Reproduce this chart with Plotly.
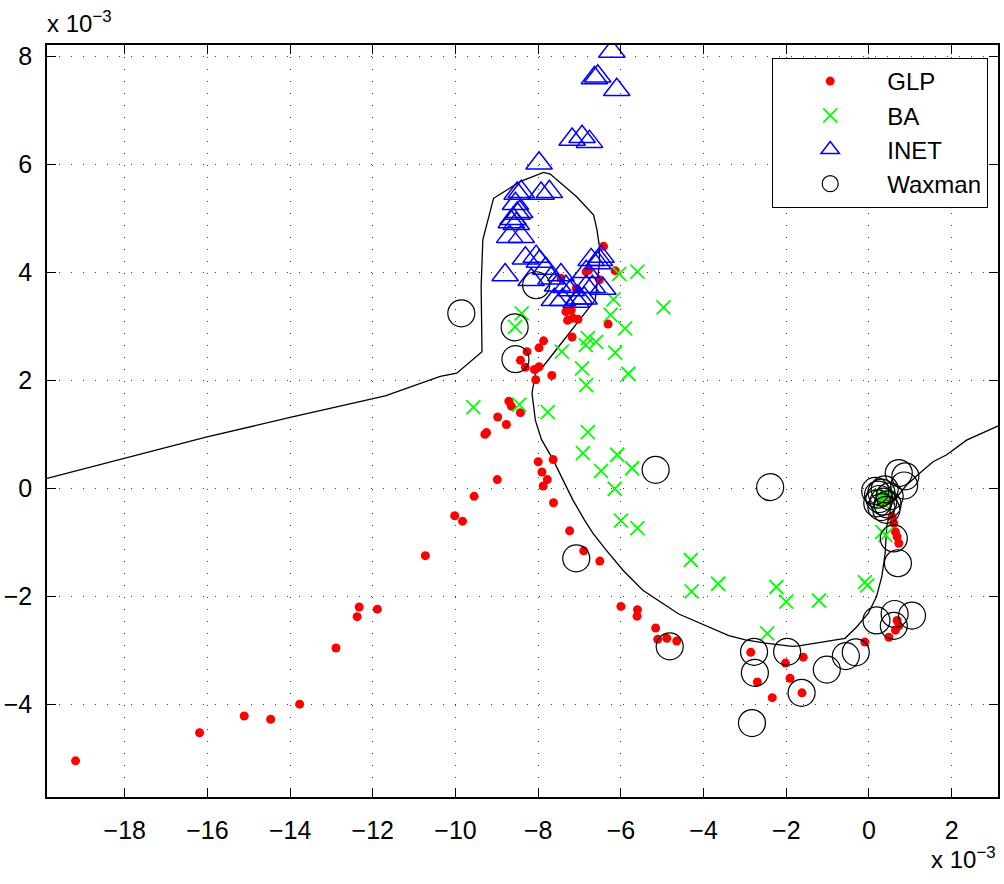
import plotly.graph_objects as go

# values in units of 1e-3
glp_x = [-19.19, -16.19, -15.11, -14.47, -13.77, -12.89, -12.33, -12.38, -11.89, -10.73,
         -10.02, -9.83, -9.55, -8.99, -9.25, -9.29, -8.98, -8.77, -8.65, -8.71, -8.43,
         -8.0, -7.64, -7.91, -7.78, -7.88, -7.63, -7.24, -6.90, -6.51,
         -6.0, -5.6, -5.61, -5.16, -5.11, -4.89, -4.65, -2.86, -2.70, -2.34, -2.02, -1.91,
         -1.59, -1.62, -0.10, 0.48, 0.68, 0.64, 0.72, 0.56, 0.64, 0.68, 0.72, 0.60, 0.44, 0.35,
         -6.42, -6.84, -6.78, -6.14, -6.52, -7.45, -7.08, -7.33, -7.20, -7.29, -7.16, -7.04,
         -6.31, -7.18, -7.87, -7.98, -8.27, -8.43, -8.31, -8.09, -7.98, -7.67, -8.06]
glp_y = [-5.05, -4.53, -4.22, -4.28, -4.0, -2.96, -2.20, -2.38, -2.24, -1.25,
         -0.51, -0.61, -0.15, 0.16, 1.03, 1.0, 1.32, 1.18, 1.52, 1.61, 1.40,
         0.49, 0.53, 0.30, 0.16, 0.04, -0.27, -0.79, -1.16, -1.35,
         -2.19, -2.25, -2.37, -2.59, -2.80, -2.78, -2.83, -3.04, -3.59, -3.88, -3.24, -3.52,
         -3.13, -3.79, -2.85, -2.76, -2.45, -2.63, -2.55, -0.53, -0.81, -0.90, -1.02, -0.65, -0.19, -0.25,
         4.48, 4.01, 4.04, 4.03, 3.86, 3.89, 3.70, 3.27, 3.30, 3.11, 3.15, 3.13,
         3.04, 2.80, 2.73, 2.60, 2.53, 2.37, 2.24, 2.20, 2.25, 2.09, 2.01]

ba_x = [-9.57, -8.46, -7.77, -6.80, -6.92, -6.09, -6.48, -5.73, -6.15, -6.0, -5.60,
        -4.31, -4.29, -3.65, -2.24, -2.0, -1.21, -2.46, -0.10, -0.04, 0.32, 0.40,
        0.28, 0.36, 0.40, 0.32, 0.45,
        -6.04, -5.60, -6.18, -6.25, -5.90, -4.97, -8.40, -8.56, -6.80, -6.60, -6.85,
        -7.43, -6.14, -6.94, -5.82, -6.84]
ba_y = [1.50, 1.55, 1.41, 1.04, 0.65, 0.62, 0.32, 0.37, -0.01, -0.60, -0.74,
        -1.33, -1.91, -1.77, -1.83, -2.10, -2.08, -2.69, -1.74, -1.80, -0.81, -0.87,
        -0.14, -0.20, -0.10, -0.25, -0.18,
        3.97, 4.01, 3.50, 3.21, 2.96, 3.35, 3.24, 2.99, 2.78, 2.71, 2.65,
        2.53, 2.51, 2.22, 2.12, 1.91]

inet_x = [-6.22, -6.56, -6.64, -6.10, -7.18, -6.94, -6.76, -7.98, -8.41, -8.51, -7.93, -7.73,
          -8.55, -8.51, -8.61, -8.65, -8.45, -8.53,
          -8.69, -8.41, -8.31, -8.80, -8.05, -7.97, -8.17, -7.82, -7.69, -7.53, -7.45, -7.33,
          -7.20, -7.61, -7.41, -7.0, -6.84, -6.72, -6.56, -6.48, -6.84, -7.08, -6.52, -6.69,
          -6.44, -6.89]
inet_y = [8.09, 7.63, 7.60, 7.38, 6.46, 6.51, 6.42, 6.02, 5.49, 5.46, 5.46, 5.49,
          5.27, 5.09, 4.99, 4.93, 5.12, 4.90,
          4.66, 4.66, 4.26, 3.95, 4.29, 4.20, 3.86, 4.07, 3.89, 3.76, 3.95, 3.73,
          3.67, 3.49, 3.49, 3.52, 3.73, 4.23, 4.17, 4.29, 4.01, 3.46, 4.23, 3.73,
          3.70, 3.52]

wax_x = [-9.86, -8.57, -8.55, -8.05, -5.16, -7.08, -2.39, -4.82, -2.78, -2.76, -2.83, -1.98,
         -1.63, -1.02, -0.56, -0.32, 0.18, 0.62, 1.04, 0.60, 0.60, 0.70, 0.72, 0.88, 0.85,
         0.15, 0.22, 0.30, 0.38, 0.25, 0.35, 0.45, 0.50, 0.20, 0.42, 0.30]
wax_y = [3.24, 2.98, 2.39, 3.76, 0.34, -1.30, 0.02, -2.93, -3.03, -3.42, -4.35, -3.03,
         -3.79, -3.36, -3.11, -3.04, -2.45, -2.33, -2.36, -2.55, -0.93, -1.39, 0.28, 0.22, 0.05,
         -0.05, -0.12, -0.08, -0.02, -0.20, -0.25, -0.30, -0.15, -0.28, -0.40, -0.35]

curve_x = [-19.88, -18.1, -16.01, -14.0, -11.70, -10.37, -9.97, -9.36, -9.38, -9.34, -9.28,
           -9.08, -8.44, -7.87, -7.71, -7.07, -6.66, -6.58, -6.52, -6.52, -6.62, -6.99, -7.31,
           -7.63, -7.95, -8.07, -8.15, -8.07, -7.92, -7.64, -7.36, -7.16, -6.88, -6.67, -6.35,
           -5.95, -5.47, -4.60, -3.39, -2.99, -2.5, -1.86, -1.7, -0.58, -0.30, -0.02, 0.18,
           0.31, 0.39, 0.43, 0.55, 0.91, 1.23, 1.55, 1.88, 2.36, 3.17]
curve_y = [0.18, 0.54, 0.95, 1.31, 1.71, 2.07, 2.13, 2.53, 3.74, 4.60, 4.78,
           5.37, 5.68, 5.85, 5.82, 5.40, 5.06, 4.79, 4.48, 4.17, 3.49, 3.12, 2.81,
           2.50, 2.19, 2.12, 1.76, 1.26, 0.90, 0.53, 0.09, -0.22, -0.59, -0.84, -1.15,
           -1.52, -1.89, -2.33, -2.73, -2.81, -2.87, -2.93, -2.92, -2.78, -2.57, -2.32, -2.01,
           -1.64, -1.21, -0.71, -0.28, 0.06, 0.28, 0.49, 0.62, 0.89, 1.17]

x_ticks = [-18, -16, -14, -12, -10, -8, -6, -4, -2, 0, 2]
y_ticks = [-4, -2, 0, 2, 4, 6, 8]

FONT = "Liberation Sans, Arial, sans-serif"

fig = go.Figure()
fig.add_trace(go.Scatter(x=curve_x, y=curve_y, mode="lines", line=dict(color="black", width=1.3),
                         showlegend=False, hoverinfo="skip"))
fig.add_trace(go.Scatter(x=glp_x, y=glp_y, mode="markers", name="GLP",
                         marker=dict(symbol="circle", size=9, color="#ff0000", line=dict(width=0))))
fig.add_trace(go.Scatter(x=ba_x, y=ba_y, mode="markers", name="BA",
                         marker=dict(symbol="x-thin-open", size=14, color="#00ff00",
                                     line=dict(width=1.8, color="#00ff00"))))
fig.add_trace(go.Scatter(x=inet_x, y=inet_y, mode="markers", name="INET",
                         marker=dict(symbol="triangle-up-open", size=23, color="#0000ff",
                                     line=dict(width=1.5, color="#0000ff"))))
fig.add_trace(go.Scatter(x=wax_x, y=wax_y, mode="markers", name="Waxman",
                         marker=dict(symbol="circle-open", size=27, color="black",
                                     line=dict(width=1.2, color="black"))))

axis_common = dict(showline=True, linecolor="black", linewidth=1.5, mirror="ticks",
                   ticks="inside", ticklen=9, tickwidth=1, tickcolor="black",
                   showgrid=True, gridcolor="rgba(0,0,0,0.75)", gridwidth=1, griddash="1px,11px",
                   zeroline=False, automargin=False,
                   tickfont=dict(family=FONT, size=25, color="black"))

fig.update_xaxes(range=[-19.88, 3.12], tickvals=x_ticks, ticklabelstandoff=10, **axis_common)
fig.update_yaxes(range=[-5.72, 8.21], tickvals=y_ticks, ticklabelstandoff=8, **axis_common)

fig.add_annotation(text="x 10<sup>−3</sup>", xref="paper", yref="paper", x=0, y=1, xanchor="left",
                   yanchor="bottom", yshift=6, xshift=-2, showarrow=False,
                   font=dict(family=FONT, size=24, color="black"))
fig.add_annotation(text="x 10<sup>−3</sup>", xref="paper", yref="paper", x=1, y=0, xanchor="right",
                   yanchor="top", yshift=-44, showarrow=False,
                   font=dict(family=FONT, size=24, color="black"))

fig.update_layout(
    width=1004, height=884,
    margin=dict(l=47, r=6, t=45, b=87),
    paper_bgcolor="white", plot_bgcolor="white",
    font=dict(family=FONT, size=25, color="black"),
    legend=dict(x=0.9895, y=0.983, xanchor="right", yanchor="top",
                bordercolor="black", borderwidth=1.2, bgcolor="white",
                font=dict(family=FONT, size=24, color="black"), itemwidth=104),
)

fig.write_html("out.html", config={"displayModeBar": False},
               post_script="document.body.style.margin='0';document.body.style.overflow='hidden';")
